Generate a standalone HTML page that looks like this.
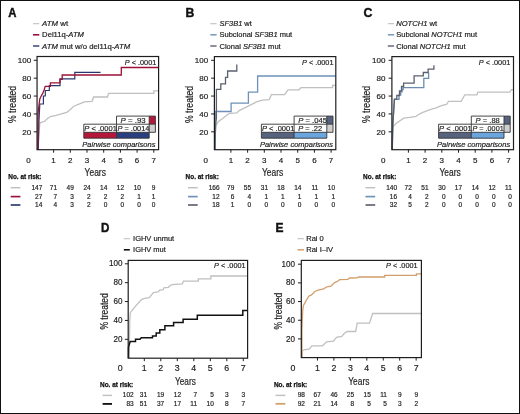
<!DOCTYPE html>
<html><head><meta charset="utf-8"><style>
html,body{margin:0;padding:0;background:#fff;}
svg{display:block;will-change:transform;}
text{font-family:"Liberation Sans", sans-serif;}
</style></head><body>
<svg width="520" height="414" viewBox="0 0 520 414" font-family='"Liberation Sans", sans-serif'>
<rect x="0" y="0" width="520" height="414" fill="#fff"/>
<text x="8.20" y="17.20" font-size="12.0" text-anchor="start" font-weight="bold" fill="#111" stroke="#111" stroke-width="0.4" textLength="8.20" lengthAdjust="spacingAndGlyphs">A</text>
<line x1="33.00" y1="23.70" x2="39.30" y2="23.70" stroke="#c0c0c0" stroke-width="1.1"/>
<text x="42.10" y="26.20" font-size="7" text-anchor="start" fill="#222" stroke="#222" stroke-width="0.18" textLength="26.00" lengthAdjust="spacingAndGlyphs"><tspan font-style="italic">ATM</tspan> wt</text>
<line x1="33.00" y1="34.80" x2="39.30" y2="34.80" stroke="#9a1238" stroke-width="1.6"/>
<text x="42.10" y="37.30" font-size="7" text-anchor="start" fill="#222" stroke="#222" stroke-width="0.18" textLength="41.90" lengthAdjust="spacingAndGlyphs">Del11q-<tspan font-style="italic">ATM</tspan></text>
<line x1="33.00" y1="46.00" x2="39.30" y2="46.00" stroke="#28386e" stroke-width="1.4"/>
<text x="42.10" y="48.50" font-size="7" text-anchor="start" fill="#222" stroke="#222" stroke-width="0.18" textLength="88.00" lengthAdjust="spacingAndGlyphs"><tspan font-style="italic">ATM</tspan> mut w/o del11q-<tspan font-style="italic">ATM</tspan></text>
<path d="M37.9,149.7 L38.8,135 L39.8,124 L40.2,122.7 L44.5,121.5 L47.5,118.5 L50.6,116.5 L56,115.4 L61.4,113.8 L66.8,112.3 L69.8,110 L73.8,106.2 L79.6,103.8 L84.4,101.8 L92.1,101.3 L93.6,97 H107.5 L108.6,93.4 H153.8 V90.8 H158.6" fill="none" stroke="#c0c0c0" stroke-width="1.3" stroke-linejoin="miter"/>
<path d="M38.3,149.7 L38.8,125 L39.8,104 H43.4 V96 H45.3 V90.5 H49.3 V85.6 H60 V78.8 H74.8 V72.3 H100.6" fill="none" stroke="#28386e" stroke-width="1.2" stroke-linejoin="miter"/>
<path d="M37.9,149.7 L38.1,112.6 L39.1,104 L39.8,99 L41.2,96 L42.7,93.4 L44.1,90 L45.2,86.3 H50.4 V82.8 H60 V79.4 H62.2 V75 H121.3 V67.5 H158.6" fill="none" stroke="#9a1238" stroke-width="1.3" stroke-linejoin="miter"/>
<rect x="37.05" y="56.50" width="121.55" height="93.20" fill="none" stroke="#1e1e1e" stroke-width="1.2"/>
<line x1="33.75" y1="60.30" x2="37.05" y2="60.30" stroke="#1e1e1e" stroke-width="1"/>
<text x="31.20" y="63.10" font-size="8" text-anchor="end" fill="#222" stroke="#222" stroke-width="0.18">100</text>
<line x1="33.75" y1="78.18" x2="37.05" y2="78.18" stroke="#1e1e1e" stroke-width="1"/>
<text x="31.20" y="80.98" font-size="8" text-anchor="end" fill="#222" stroke="#222" stroke-width="0.18">80</text>
<line x1="33.75" y1="96.06" x2="37.05" y2="96.06" stroke="#1e1e1e" stroke-width="1"/>
<text x="31.20" y="98.86" font-size="8" text-anchor="end" fill="#222" stroke="#222" stroke-width="0.18">60</text>
<line x1="33.75" y1="113.94" x2="37.05" y2="113.94" stroke="#1e1e1e" stroke-width="1"/>
<text x="31.20" y="116.74" font-size="8" text-anchor="end" fill="#222" stroke="#222" stroke-width="0.18">40</text>
<line x1="33.75" y1="131.82" x2="37.05" y2="131.82" stroke="#1e1e1e" stroke-width="1"/>
<text x="31.20" y="134.62" font-size="8" text-anchor="end" fill="#222" stroke="#222" stroke-width="0.18">20</text>
<line x1="53.60" y1="149.70" x2="53.60" y2="152.70" stroke="#1e1e1e" stroke-width="1"/>
<line x1="70.30" y1="149.70" x2="70.30" y2="152.70" stroke="#1e1e1e" stroke-width="1"/>
<line x1="87.00" y1="149.70" x2="87.00" y2="152.70" stroke="#1e1e1e" stroke-width="1"/>
<line x1="103.70" y1="149.70" x2="103.70" y2="152.70" stroke="#1e1e1e" stroke-width="1"/>
<line x1="120.40" y1="149.70" x2="120.40" y2="152.70" stroke="#1e1e1e" stroke-width="1"/>
<line x1="137.10" y1="149.70" x2="137.10" y2="152.70" stroke="#1e1e1e" stroke-width="1"/>
<line x1="153.80" y1="149.70" x2="153.80" y2="152.70" stroke="#1e1e1e" stroke-width="1"/>
<text x="28.50" y="162.90" font-size="8" text-anchor="middle" fill="#222" stroke="#222" stroke-width="0.18">0</text>
<text x="53.60" y="162.90" font-size="8" text-anchor="middle" fill="#222" stroke="#222" stroke-width="0.18">1</text>
<text x="70.30" y="162.90" font-size="8" text-anchor="middle" fill="#222" stroke="#222" stroke-width="0.18">2</text>
<text x="87.00" y="162.90" font-size="8" text-anchor="middle" fill="#222" stroke="#222" stroke-width="0.18">3</text>
<text x="103.70" y="162.90" font-size="8" text-anchor="middle" fill="#222" stroke="#222" stroke-width="0.18">4</text>
<text x="120.40" y="162.90" font-size="8" text-anchor="middle" fill="#222" stroke="#222" stroke-width="0.18">5</text>
<text x="137.10" y="162.90" font-size="8" text-anchor="middle" fill="#222" stroke="#222" stroke-width="0.18">6</text>
<text x="153.80" y="162.90" font-size="8" text-anchor="middle" fill="#222" stroke="#222" stroke-width="0.18">7</text>
<text x="84.60" y="175.70" font-size="10.6" text-anchor="start" fill="#222" stroke="#222" stroke-width="0.18" textLength="21.30" lengthAdjust="spacingAndGlyphs">Years</text>
<text transform="translate(15.50,104.50) rotate(-90)" font-size="10" text-anchor="middle" fill="#222" stroke="#222" stroke-width="0.18" textLength="37.00" lengthAdjust="spacingAndGlyphs">% treated</text>
<text x="156.30" y="64.70" font-size="7.4" text-anchor="end" fill="#222" stroke="#222" stroke-width="0.18" textLength="31.50" lengthAdjust="spacingAndGlyphs"><tspan font-style="italic">P</tspan> &lt; .0001</text>
<text x="8.30" y="179.40" font-size="6.5" text-anchor="start" font-weight="bold" fill="#111" stroke="#111" stroke-width="0.25" textLength="33.20" lengthAdjust="spacingAndGlyphs">No. at risk:</text>
<line x1="10.70" y1="187.70" x2="20.40" y2="187.70" stroke="#c0c0c0" stroke-width="1.45"/>
<text x="42.30" y="189.60" font-size="6.5" text-anchor="end" fill="#222" stroke="#222" stroke-width="0.18">147</text>
<text x="57.00" y="189.60" font-size="6.5" text-anchor="end" fill="#222" stroke="#222" stroke-width="0.18">71</text>
<text x="73.80" y="189.60" font-size="6.5" text-anchor="end" fill="#222" stroke="#222" stroke-width="0.18">49</text>
<text x="90.70" y="189.60" font-size="6.5" text-anchor="end" fill="#222" stroke="#222" stroke-width="0.18">24</text>
<text x="107.30" y="189.60" font-size="6.5" text-anchor="end" fill="#222" stroke="#222" stroke-width="0.18">14</text>
<text x="124.10" y="189.60" font-size="6.5" text-anchor="end" fill="#222" stroke="#222" stroke-width="0.18">12</text>
<text x="140.90" y="189.60" font-size="6.5" text-anchor="end" fill="#222" stroke="#222" stroke-width="0.18">10</text>
<text x="155.30" y="189.60" font-size="6.5" text-anchor="end" fill="#222" stroke="#222" stroke-width="0.18">9</text>
<line x1="10.70" y1="196.60" x2="20.40" y2="196.60" stroke="#9a1238" stroke-width="1.65"/>
<text x="42.30" y="198.50" font-size="6.5" text-anchor="end" fill="#222" stroke="#222" stroke-width="0.18">27</text>
<text x="57.00" y="198.50" font-size="6.5" text-anchor="end" fill="#222" stroke="#222" stroke-width="0.18">7</text>
<text x="73.80" y="198.50" font-size="6.5" text-anchor="end" fill="#222" stroke="#222" stroke-width="0.18">3</text>
<text x="90.70" y="198.50" font-size="6.5" text-anchor="end" fill="#222" stroke="#222" stroke-width="0.18">2</text>
<text x="107.30" y="198.50" font-size="6.5" text-anchor="end" fill="#222" stroke="#222" stroke-width="0.18">2</text>
<text x="124.10" y="198.50" font-size="6.5" text-anchor="end" fill="#222" stroke="#222" stroke-width="0.18">2</text>
<text x="140.90" y="198.50" font-size="6.5" text-anchor="end" fill="#222" stroke="#222" stroke-width="0.18">1</text>
<text x="155.30" y="198.50" font-size="6.5" text-anchor="end" fill="#222" stroke="#222" stroke-width="0.18">1</text>
<line x1="10.70" y1="205.00" x2="20.40" y2="205.00" stroke="#28386e" stroke-width="1.65"/>
<text x="42.30" y="206.90" font-size="6.5" text-anchor="end" fill="#222" stroke="#222" stroke-width="0.18">14</text>
<text x="57.00" y="206.90" font-size="6.5" text-anchor="end" fill="#222" stroke="#222" stroke-width="0.18">4</text>
<text x="73.80" y="206.90" font-size="6.5" text-anchor="end" fill="#222" stroke="#222" stroke-width="0.18">3</text>
<text x="90.70" y="206.90" font-size="6.5" text-anchor="end" fill="#222" stroke="#222" stroke-width="0.18">2</text>
<text x="107.30" y="206.90" font-size="6.5" text-anchor="end" fill="#222" stroke="#222" stroke-width="0.18">0</text>
<text x="124.10" y="206.90" font-size="6.5" text-anchor="end" fill="#222" stroke="#222" stroke-width="0.18">0</text>
<text x="140.90" y="206.90" font-size="6.5" text-anchor="end" fill="#222" stroke="#222" stroke-width="0.18">0</text>
<text x="155.30" y="206.90" font-size="6.5" text-anchor="end" fill="#222" stroke="#222" stroke-width="0.18">0</text>
<rect x="83.80" y="132.30" width="32.70" height="5.90" fill="#b5173a" stroke="none" stroke-width="1"/>
<rect x="116.50" y="132.30" width="32.70" height="5.90" fill="#2b3f80" stroke="none" stroke-width="1"/>
<rect x="149.20" y="116.10" width="6.20" height="8.10" fill="#b5173a" stroke="none" stroke-width="1"/>
<rect x="149.20" y="124.20" width="6.20" height="8.10" fill="#d0d0d0" stroke="none" stroke-width="1"/>
<path d="M116.50,116.10 H155.40 V132.30 H83.80 V124.20 H116.50 Z M116.50,124.20 H155.40 M116.50,124.20 V138.20 M149.20,116.10 V132.30 M83.80,132.30 V138.20 H149.20 V132.30" fill="none" stroke="#333" stroke-width="0.9"/>
<text x="120.60" y="122.60" font-size="7.5" text-anchor="start" fill="#222" stroke="#222" stroke-width="0.18" textLength="25.00" lengthAdjust="spacingAndGlyphs"><tspan font-style="italic">P</tspan> = .93</text>
<text x="84.30" y="130.70" font-size="7.5" text-anchor="start" fill="#222" stroke="#222" stroke-width="0.18" textLength="32.60" lengthAdjust="spacingAndGlyphs"><tspan font-style="italic">P</tspan> &lt; .0001</text>
<text x="117.50" y="130.70" font-size="7.5" text-anchor="start" fill="#222" stroke="#222" stroke-width="0.18" textLength="31.90" lengthAdjust="spacingAndGlyphs"><tspan font-style="italic">P</tspan> = .0014</text>
<text x="82.30" y="146.60" font-size="7.6" text-anchor="start" font-style="italic" fill="#222" stroke="#222" stroke-width="0.18" textLength="73.10" lengthAdjust="spacingAndGlyphs">Pairwise comparisons</text>
<text x="185.60" y="17.20" font-size="12.0" text-anchor="start" font-weight="bold" fill="#111" stroke="#111" stroke-width="0.4" textLength="8.80" lengthAdjust="spacingAndGlyphs">B</text>
<line x1="210.30" y1="23.70" x2="216.60" y2="23.70" stroke="#c0c0c0" stroke-width="1.1"/>
<text x="219.50" y="26.20" font-size="7" text-anchor="start" fill="#222" stroke="#222" stroke-width="0.18" textLength="32.30" lengthAdjust="spacingAndGlyphs"><tspan font-style="italic">SF3B1</tspan> wt</text>
<line x1="210.30" y1="34.80" x2="216.60" y2="34.80" stroke="#6d91b8" stroke-width="1.4"/>
<text x="219.50" y="37.30" font-size="7" text-anchor="start" fill="#222" stroke="#222" stroke-width="0.18" textLength="72.70" lengthAdjust="spacingAndGlyphs">Subclonal <tspan font-style="italic">SF3B1</tspan> mut</text>
<line x1="210.30" y1="46.00" x2="216.60" y2="46.00" stroke="#5b606f" stroke-width="1.4"/>
<text x="219.50" y="48.50" font-size="7" text-anchor="start" fill="#222" stroke="#222" stroke-width="0.18" textLength="61.20" lengthAdjust="spacingAndGlyphs">Clonal <tspan font-style="italic">SF3B1</tspan> mut</text>
<path d="M215.0,149.7 L215.4,132 L215.9,125.6 L218.4,121.4 L222.7,118.5 L228.6,113.8 L230,113.4 L236.9,112.9 L239.2,110.6 L243.8,108.3 L249.6,105.4 L256.5,101.9 L262.3,100.2 L269.2,99.6 L271.5,94.6 H284.6 L288,89.8 H298.9 L301,87.6 H332.6 V85.3 H335.8" fill="none" stroke="#c0c0c0" stroke-width="1.3" stroke-linejoin="miter"/>
<path d="M215.3,149.7 V111.5 H231.1 V103.1 H248.4 V92.2 H257.6 V76 H335.8" fill="none" stroke="#6d91b8" stroke-width="1.3" stroke-linejoin="miter"/>
<path d="M214.9,149.7 L215.6,125 L216.4,118 V89.4 H220.8 V83.8 H225.5 V77.3 H227.6 V71 H236.8 V64.4" fill="none" stroke="#5b606f" stroke-width="1.3" stroke-linejoin="miter"/>
<rect x="214.40" y="56.60" width="121.40" height="93.10" fill="none" stroke="#1e1e1e" stroke-width="1.2"/>
<line x1="211.10" y1="60.30" x2="214.40" y2="60.30" stroke="#1e1e1e" stroke-width="1"/>
<text x="208.20" y="63.10" font-size="8" text-anchor="end" fill="#222" stroke="#222" stroke-width="0.18">100</text>
<line x1="211.10" y1="78.18" x2="214.40" y2="78.18" stroke="#1e1e1e" stroke-width="1"/>
<text x="208.20" y="80.98" font-size="8" text-anchor="end" fill="#222" stroke="#222" stroke-width="0.18">80</text>
<line x1="211.10" y1="96.06" x2="214.40" y2="96.06" stroke="#1e1e1e" stroke-width="1"/>
<text x="208.20" y="98.86" font-size="8" text-anchor="end" fill="#222" stroke="#222" stroke-width="0.18">60</text>
<line x1="211.10" y1="113.94" x2="214.40" y2="113.94" stroke="#1e1e1e" stroke-width="1"/>
<text x="208.20" y="116.74" font-size="8" text-anchor="end" fill="#222" stroke="#222" stroke-width="0.18">40</text>
<line x1="211.10" y1="131.82" x2="214.40" y2="131.82" stroke="#1e1e1e" stroke-width="1"/>
<text x="208.20" y="134.62" font-size="8" text-anchor="end" fill="#222" stroke="#222" stroke-width="0.18">20</text>
<line x1="230.90" y1="149.70" x2="230.90" y2="152.70" stroke="#1e1e1e" stroke-width="1"/>
<line x1="247.60" y1="149.70" x2="247.60" y2="152.70" stroke="#1e1e1e" stroke-width="1"/>
<line x1="264.30" y1="149.70" x2="264.30" y2="152.70" stroke="#1e1e1e" stroke-width="1"/>
<line x1="281.00" y1="149.70" x2="281.00" y2="152.70" stroke="#1e1e1e" stroke-width="1"/>
<line x1="297.70" y1="149.70" x2="297.70" y2="152.70" stroke="#1e1e1e" stroke-width="1"/>
<line x1="314.40" y1="149.70" x2="314.40" y2="152.70" stroke="#1e1e1e" stroke-width="1"/>
<line x1="331.10" y1="149.70" x2="331.10" y2="152.70" stroke="#1e1e1e" stroke-width="1"/>
<text x="205.80" y="162.90" font-size="8" text-anchor="middle" fill="#222" stroke="#222" stroke-width="0.18">0</text>
<text x="230.90" y="162.90" font-size="8" text-anchor="middle" fill="#222" stroke="#222" stroke-width="0.18">1</text>
<text x="247.60" y="162.90" font-size="8" text-anchor="middle" fill="#222" stroke="#222" stroke-width="0.18">2</text>
<text x="264.30" y="162.90" font-size="8" text-anchor="middle" fill="#222" stroke="#222" stroke-width="0.18">3</text>
<text x="281.00" y="162.90" font-size="8" text-anchor="middle" fill="#222" stroke="#222" stroke-width="0.18">4</text>
<text x="297.70" y="162.90" font-size="8" text-anchor="middle" fill="#222" stroke="#222" stroke-width="0.18">5</text>
<text x="314.40" y="162.90" font-size="8" text-anchor="middle" fill="#222" stroke="#222" stroke-width="0.18">6</text>
<text x="331.10" y="162.90" font-size="8" text-anchor="middle" fill="#222" stroke="#222" stroke-width="0.18">7</text>
<text x="261.90" y="175.70" font-size="10.6" text-anchor="start" fill="#222" stroke="#222" stroke-width="0.18" textLength="21.30" lengthAdjust="spacingAndGlyphs">Years</text>
<text transform="translate(192.80,104.50) rotate(-90)" font-size="10" text-anchor="middle" fill="#222" stroke="#222" stroke-width="0.18" textLength="37.00" lengthAdjust="spacingAndGlyphs">% treated</text>
<text x="333.50" y="64.50" font-size="7.4" text-anchor="end" fill="#222" stroke="#222" stroke-width="0.18" textLength="31.50" lengthAdjust="spacingAndGlyphs"><tspan font-style="italic">P</tspan> &lt; .0001</text>
<text x="185.60" y="179.40" font-size="6.5" text-anchor="start" font-weight="bold" fill="#111" stroke="#111" stroke-width="0.25" textLength="33.20" lengthAdjust="spacingAndGlyphs">No. at risk:</text>
<line x1="188.00" y1="187.70" x2="197.70" y2="187.70" stroke="#c0c0c0" stroke-width="1.45"/>
<text x="219.60" y="189.60" font-size="6.5" text-anchor="end" fill="#222" stroke="#222" stroke-width="0.18">166</text>
<text x="234.30" y="189.60" font-size="6.5" text-anchor="end" fill="#222" stroke="#222" stroke-width="0.18">79</text>
<text x="251.10" y="189.60" font-size="6.5" text-anchor="end" fill="#222" stroke="#222" stroke-width="0.18">55</text>
<text x="268.00" y="189.60" font-size="6.5" text-anchor="end" fill="#222" stroke="#222" stroke-width="0.18">31</text>
<text x="284.60" y="189.60" font-size="6.5" text-anchor="end" fill="#222" stroke="#222" stroke-width="0.18">18</text>
<text x="301.40" y="189.60" font-size="6.5" text-anchor="end" fill="#222" stroke="#222" stroke-width="0.18">14</text>
<text x="318.20" y="189.60" font-size="6.5" text-anchor="end" fill="#222" stroke="#222" stroke-width="0.18">11</text>
<text x="335.00" y="189.60" font-size="6.5" text-anchor="end" fill="#222" stroke="#222" stroke-width="0.18">10</text>
<line x1="188.00" y1="196.60" x2="197.70" y2="196.60" stroke="#6d91b8" stroke-width="1.65"/>
<text x="219.60" y="198.50" font-size="6.5" text-anchor="end" fill="#222" stroke="#222" stroke-width="0.18">12</text>
<text x="234.30" y="198.50" font-size="6.5" text-anchor="end" fill="#222" stroke="#222" stroke-width="0.18">6</text>
<text x="251.10" y="198.50" font-size="6.5" text-anchor="end" fill="#222" stroke="#222" stroke-width="0.18">4</text>
<text x="268.00" y="198.50" font-size="6.5" text-anchor="end" fill="#222" stroke="#222" stroke-width="0.18">1</text>
<text x="284.60" y="198.50" font-size="6.5" text-anchor="end" fill="#222" stroke="#222" stroke-width="0.18">1</text>
<text x="301.40" y="198.50" font-size="6.5" text-anchor="end" fill="#222" stroke="#222" stroke-width="0.18">1</text>
<text x="318.20" y="198.50" font-size="6.5" text-anchor="end" fill="#222" stroke="#222" stroke-width="0.18">1</text>
<text x="335.00" y="198.50" font-size="6.5" text-anchor="end" fill="#222" stroke="#222" stroke-width="0.18">1</text>
<line x1="188.00" y1="205.00" x2="197.70" y2="205.00" stroke="#5b606f" stroke-width="1.65"/>
<text x="219.60" y="206.90" font-size="6.5" text-anchor="end" fill="#222" stroke="#222" stroke-width="0.18">18</text>
<text x="234.30" y="206.90" font-size="6.5" text-anchor="end" fill="#222" stroke="#222" stroke-width="0.18">1</text>
<text x="251.10" y="206.90" font-size="6.5" text-anchor="end" fill="#222" stroke="#222" stroke-width="0.18">0</text>
<text x="268.00" y="206.90" font-size="6.5" text-anchor="end" fill="#222" stroke="#222" stroke-width="0.18">0</text>
<text x="284.60" y="206.90" font-size="6.5" text-anchor="end" fill="#222" stroke="#222" stroke-width="0.18">0</text>
<text x="301.40" y="206.90" font-size="6.5" text-anchor="end" fill="#222" stroke="#222" stroke-width="0.18">0</text>
<text x="318.20" y="206.90" font-size="6.5" text-anchor="end" fill="#222" stroke="#222" stroke-width="0.18">0</text>
<text x="335.00" y="206.90" font-size="6.5" text-anchor="end" fill="#222" stroke="#222" stroke-width="0.18">0</text>
<rect x="261.40" y="132.30" width="32.70" height="5.90" fill="#57627e" stroke="none" stroke-width="1"/>
<rect x="294.10" y="132.30" width="32.70" height="5.90" fill="#6aa5de" stroke="none" stroke-width="1"/>
<rect x="326.80" y="116.10" width="6.20" height="8.10" fill="#57627e" stroke="none" stroke-width="1"/>
<rect x="326.80" y="124.20" width="6.20" height="8.10" fill="#d0d0d0" stroke="none" stroke-width="1"/>
<path d="M294.10,116.10 H333.00 V132.30 H261.40 V124.20 H294.10 Z M294.10,124.20 H333.00 M294.10,124.20 V138.20 M326.80,116.10 V132.30 M261.40,132.30 V138.20 H326.80 V132.30" fill="none" stroke="#333" stroke-width="0.9"/>
<text x="298.30" y="122.60" font-size="7.5" text-anchor="start" fill="#222" stroke="#222" stroke-width="0.18" textLength="28.70" lengthAdjust="spacingAndGlyphs"><tspan font-style="italic">P</tspan> = .045</text>
<text x="261.90" y="130.70" font-size="7.5" text-anchor="start" fill="#222" stroke="#222" stroke-width="0.18" textLength="32.60" lengthAdjust="spacingAndGlyphs"><tspan font-style="italic">P</tspan> &lt; .0001</text>
<text x="298.30" y="130.70" font-size="7.5" text-anchor="start" fill="#222" stroke="#222" stroke-width="0.18" textLength="23.90" lengthAdjust="spacingAndGlyphs"><tspan font-style="italic">P</tspan> = .22</text>
<text x="259.90" y="146.60" font-size="7.6" text-anchor="start" font-style="italic" fill="#222" stroke="#222" stroke-width="0.18" textLength="73.10" lengthAdjust="spacingAndGlyphs">Pairwise comparisons</text>
<text x="363.40" y="17.20" font-size="12.0" text-anchor="start" font-weight="bold" fill="#111" stroke="#111" stroke-width="0.4" textLength="8.90" lengthAdjust="spacingAndGlyphs">C</text>
<line x1="387.80" y1="23.70" x2="394.10" y2="23.70" stroke="#c0c0c0" stroke-width="1.1"/>
<text x="396.20" y="26.20" font-size="7" text-anchor="start" fill="#222" stroke="#222" stroke-width="0.18" textLength="41.00" lengthAdjust="spacingAndGlyphs"><tspan font-style="italic">NOTCH1</tspan> wt</text>
<line x1="387.80" y1="34.80" x2="394.10" y2="34.80" stroke="#6d91b8" stroke-width="1.4"/>
<text x="396.20" y="37.30" font-size="7" text-anchor="start" fill="#222" stroke="#222" stroke-width="0.18" textLength="80.80" lengthAdjust="spacingAndGlyphs">Subclonal <tspan font-style="italic">NOTCH1</tspan> mut</text>
<line x1="387.80" y1="46.00" x2="394.10" y2="46.00" stroke="#5b606f" stroke-width="1.4"/>
<text x="396.20" y="48.50" font-size="7" text-anchor="start" fill="#222" stroke="#222" stroke-width="0.18" textLength="69.30" lengthAdjust="spacingAndGlyphs">Clonal <tspan font-style="italic">NOTCH1</tspan> mut</text>
<path d="M392.3,149.7 L392.6,132 L393.1,126.5 L396,123.5 L399.2,121.2 L403.8,118.1 L410,117.3 L416,116.5 L417.7,115 L422.3,112.7 L430,109.6 L436.2,107.8 L440.8,105.8 L446.9,104.2 L448.4,101.3 H461.3 L464.8,94.8 H476.9 L477.8,92.2 H509.8 L511.5,89.6 H513.5" fill="none" stroke="#c0c0c0" stroke-width="1.3" stroke-linejoin="miter"/>
<path d="M392.2,149.7 L392.6,128 L394.3,99.4 H399 V95.2 H400.7 V91.8 H402 V89.5 H403.2 V87.7 H423.8 V78.3 H428.6 V72.5" fill="none" stroke="#6a8cb0" stroke-width="1.3" stroke-linejoin="miter"/>
<path d="M392.3,149.7 L392.8,125 L394.5,99.2 H396.8 V95.5 H399.5 V91 H401.5 V86.5 H403.6 V83.2 H414.1 V75.9 H423.3 V72.5 H428.1 V69.2 H433.9 V65.3" fill="none" stroke="#5b606f" stroke-width="1.3" stroke-linejoin="miter"/>
<rect x="391.90" y="56.60" width="121.60" height="93.10" fill="none" stroke="#1e1e1e" stroke-width="1.2"/>
<line x1="388.60" y1="60.30" x2="391.90" y2="60.30" stroke="#1e1e1e" stroke-width="1"/>
<text x="385.40" y="63.10" font-size="8" text-anchor="end" fill="#222" stroke="#222" stroke-width="0.18">100</text>
<line x1="388.60" y1="78.18" x2="391.90" y2="78.18" stroke="#1e1e1e" stroke-width="1"/>
<text x="385.40" y="80.98" font-size="8" text-anchor="end" fill="#222" stroke="#222" stroke-width="0.18">80</text>
<line x1="388.60" y1="96.06" x2="391.90" y2="96.06" stroke="#1e1e1e" stroke-width="1"/>
<text x="385.40" y="98.86" font-size="8" text-anchor="end" fill="#222" stroke="#222" stroke-width="0.18">60</text>
<line x1="388.60" y1="113.94" x2="391.90" y2="113.94" stroke="#1e1e1e" stroke-width="1"/>
<text x="385.40" y="116.74" font-size="8" text-anchor="end" fill="#222" stroke="#222" stroke-width="0.18">40</text>
<line x1="388.60" y1="131.82" x2="391.90" y2="131.82" stroke="#1e1e1e" stroke-width="1"/>
<text x="385.40" y="134.62" font-size="8" text-anchor="end" fill="#222" stroke="#222" stroke-width="0.18">20</text>
<line x1="408.40" y1="149.70" x2="408.40" y2="152.70" stroke="#1e1e1e" stroke-width="1"/>
<line x1="425.10" y1="149.70" x2="425.10" y2="152.70" stroke="#1e1e1e" stroke-width="1"/>
<line x1="441.80" y1="149.70" x2="441.80" y2="152.70" stroke="#1e1e1e" stroke-width="1"/>
<line x1="458.50" y1="149.70" x2="458.50" y2="152.70" stroke="#1e1e1e" stroke-width="1"/>
<line x1="475.20" y1="149.70" x2="475.20" y2="152.70" stroke="#1e1e1e" stroke-width="1"/>
<line x1="491.90" y1="149.70" x2="491.90" y2="152.70" stroke="#1e1e1e" stroke-width="1"/>
<line x1="508.60" y1="149.70" x2="508.60" y2="152.70" stroke="#1e1e1e" stroke-width="1"/>
<text x="383.30" y="162.90" font-size="8" text-anchor="middle" fill="#222" stroke="#222" stroke-width="0.18">0</text>
<text x="408.40" y="162.90" font-size="8" text-anchor="middle" fill="#222" stroke="#222" stroke-width="0.18">1</text>
<text x="425.10" y="162.90" font-size="8" text-anchor="middle" fill="#222" stroke="#222" stroke-width="0.18">2</text>
<text x="441.80" y="162.90" font-size="8" text-anchor="middle" fill="#222" stroke="#222" stroke-width="0.18">3</text>
<text x="458.50" y="162.90" font-size="8" text-anchor="middle" fill="#222" stroke="#222" stroke-width="0.18">4</text>
<text x="475.20" y="162.90" font-size="8" text-anchor="middle" fill="#222" stroke="#222" stroke-width="0.18">5</text>
<text x="491.90" y="162.90" font-size="8" text-anchor="middle" fill="#222" stroke="#222" stroke-width="0.18">6</text>
<text x="508.60" y="162.90" font-size="8" text-anchor="middle" fill="#222" stroke="#222" stroke-width="0.18">7</text>
<text x="439.40" y="175.70" font-size="10.6" text-anchor="start" fill="#222" stroke="#222" stroke-width="0.18" textLength="21.30" lengthAdjust="spacingAndGlyphs">Years</text>
<text transform="translate(370.30,104.50) rotate(-90)" font-size="10" text-anchor="middle" fill="#222" stroke="#222" stroke-width="0.18" textLength="37.00" lengthAdjust="spacingAndGlyphs">% treated</text>
<text x="510.30" y="64.50" font-size="7.4" text-anchor="end" fill="#222" stroke="#222" stroke-width="0.18" textLength="31.50" lengthAdjust="spacingAndGlyphs"><tspan font-style="italic">P</tspan> &lt; .0001</text>
<text x="363.10" y="179.40" font-size="6.5" text-anchor="start" font-weight="bold" fill="#111" stroke="#111" stroke-width="0.25" textLength="33.20" lengthAdjust="spacingAndGlyphs">No. at risk:</text>
<line x1="365.50" y1="187.70" x2="375.20" y2="187.70" stroke="#c0c0c0" stroke-width="1.45"/>
<text x="397.10" y="189.60" font-size="6.5" text-anchor="end" fill="#222" stroke="#222" stroke-width="0.18">140</text>
<text x="411.80" y="189.60" font-size="6.5" text-anchor="end" fill="#222" stroke="#222" stroke-width="0.18">72</text>
<text x="428.60" y="189.60" font-size="6.5" text-anchor="end" fill="#222" stroke="#222" stroke-width="0.18">51</text>
<text x="445.50" y="189.60" font-size="6.5" text-anchor="end" fill="#222" stroke="#222" stroke-width="0.18">30</text>
<text x="462.10" y="189.60" font-size="6.5" text-anchor="end" fill="#222" stroke="#222" stroke-width="0.18">17</text>
<text x="478.90" y="189.60" font-size="6.5" text-anchor="end" fill="#222" stroke="#222" stroke-width="0.18">14</text>
<text x="495.70" y="189.60" font-size="6.5" text-anchor="end" fill="#222" stroke="#222" stroke-width="0.18">12</text>
<text x="511.80" y="189.60" font-size="6.5" text-anchor="end" fill="#222" stroke="#222" stroke-width="0.18">11</text>
<line x1="365.50" y1="196.60" x2="375.20" y2="196.60" stroke="#6d91b8" stroke-width="1.65"/>
<text x="397.10" y="198.50" font-size="6.5" text-anchor="end" fill="#222" stroke="#222" stroke-width="0.18">16</text>
<text x="411.80" y="198.50" font-size="6.5" text-anchor="end" fill="#222" stroke="#222" stroke-width="0.18">4</text>
<text x="428.60" y="198.50" font-size="6.5" text-anchor="end" fill="#222" stroke="#222" stroke-width="0.18">2</text>
<text x="445.50" y="198.50" font-size="6.5" text-anchor="end" fill="#222" stroke="#222" stroke-width="0.18">0</text>
<text x="462.10" y="198.50" font-size="6.5" text-anchor="end" fill="#222" stroke="#222" stroke-width="0.18">0</text>
<text x="478.90" y="198.50" font-size="6.5" text-anchor="end" fill="#222" stroke="#222" stroke-width="0.18">0</text>
<text x="495.70" y="198.50" font-size="6.5" text-anchor="end" fill="#222" stroke="#222" stroke-width="0.18">0</text>
<text x="511.80" y="198.50" font-size="6.5" text-anchor="end" fill="#222" stroke="#222" stroke-width="0.18">0</text>
<line x1="365.50" y1="205.00" x2="375.20" y2="205.00" stroke="#5b606f" stroke-width="1.65"/>
<text x="397.10" y="206.90" font-size="6.5" text-anchor="end" fill="#222" stroke="#222" stroke-width="0.18">32</text>
<text x="411.80" y="206.90" font-size="6.5" text-anchor="end" fill="#222" stroke="#222" stroke-width="0.18">5</text>
<text x="428.60" y="206.90" font-size="6.5" text-anchor="end" fill="#222" stroke="#222" stroke-width="0.18">2</text>
<text x="445.50" y="206.90" font-size="6.5" text-anchor="end" fill="#222" stroke="#222" stroke-width="0.18">0</text>
<text x="462.10" y="206.90" font-size="6.5" text-anchor="end" fill="#222" stroke="#222" stroke-width="0.18">0</text>
<text x="478.90" y="206.90" font-size="6.5" text-anchor="end" fill="#222" stroke="#222" stroke-width="0.18">0</text>
<text x="495.70" y="206.90" font-size="6.5" text-anchor="end" fill="#222" stroke="#222" stroke-width="0.18">0</text>
<text x="511.80" y="206.90" font-size="6.5" text-anchor="end" fill="#222" stroke="#222" stroke-width="0.18">0</text>
<rect x="438.60" y="132.30" width="32.70" height="5.90" fill="#57627e" stroke="none" stroke-width="1"/>
<rect x="471.30" y="132.30" width="32.70" height="5.90" fill="#6aa5de" stroke="none" stroke-width="1"/>
<rect x="504.00" y="116.10" width="6.20" height="8.10" fill="#57627e" stroke="none" stroke-width="1"/>
<rect x="504.00" y="124.20" width="6.20" height="8.10" fill="#d0d0d0" stroke="none" stroke-width="1"/>
<path d="M471.30,116.10 H510.20 V132.30 H438.60 V124.20 H471.30 Z M471.30,124.20 H510.20 M471.30,124.20 V138.20 M504.00,116.10 V132.30 M438.60,132.30 V138.20 H504.00 V132.30" fill="none" stroke="#333" stroke-width="0.9"/>
<text x="475.60" y="122.60" font-size="7.5" text-anchor="start" fill="#222" stroke="#222" stroke-width="0.18" textLength="24.20" lengthAdjust="spacingAndGlyphs"><tspan font-style="italic">P</tspan> = .88</text>
<text x="439.10" y="130.70" font-size="7.5" text-anchor="start" fill="#222" stroke="#222" stroke-width="0.18" textLength="32.60" lengthAdjust="spacingAndGlyphs"><tspan font-style="italic">P</tspan> &lt; .0001</text>
<text x="472.50" y="130.70" font-size="7.5" text-anchor="start" fill="#222" stroke="#222" stroke-width="0.18" textLength="31.20" lengthAdjust="spacingAndGlyphs"><tspan font-style="italic">P</tspan> = .0001</text>
<text x="437.10" y="146.60" font-size="7.6" text-anchor="start" font-style="italic" fill="#222" stroke="#222" stroke-width="0.18" textLength="73.10" lengthAdjust="spacingAndGlyphs">Pairwise comparisons</text>
<text x="100.90" y="232.00" font-size="12.0" text-anchor="start" font-weight="bold" fill="#111" stroke="#111" stroke-width="0.4" textLength="8.40" lengthAdjust="spacingAndGlyphs">D</text>
<line x1="123.80" y1="238.70" x2="129.80" y2="238.70" stroke="#c0c0c0" stroke-width="1.1"/>
<text x="133.10" y="241.20" font-size="7" text-anchor="start" fill="#222" stroke="#222" stroke-width="0.18" textLength="41.10" lengthAdjust="spacingAndGlyphs">IGHV unmut</text>
<line x1="123.80" y1="249.80" x2="129.80" y2="249.80" stroke="#111" stroke-width="1.6"/>
<text x="133.10" y="252.30" font-size="7" text-anchor="start" fill="#222" stroke="#222" stroke-width="0.18" textLength="32.70" lengthAdjust="spacingAndGlyphs">IGHV mut</text>
<path d="M128.6,358 L129.3,345 L129.8,320 L130.3,312.7 L134.9,306.9 L139.5,301.7 L141.8,299.4 L144.7,298.3 L149.3,297.7 L153.4,292.5 L158,291.9 L159.7,290.2 L163.2,289.6 L163.8,287.9 L168.4,287.3 L170.7,285 L174.1,284.4 L182.2,283.8 L183.6,281.1 H198.3 V278.8 H210.9 V276 H247.6" fill="none" stroke="#c0c0c0" stroke-width="1.3" stroke-linejoin="miter"/>
<path d="M128.5,358 V347 L129.2,344.8 L130.2,341.6 H135.5 V339.3 H140 L141.3,337.7 H152.5 V336 H156.2 V333 H159.8 V329.7 H164.9 V325.8 H173.6 V322.6 H183.1 V319.3 H197.3 V315.3 H242.8 V310.5 H247.5" fill="none" stroke="#111" stroke-width="1.5" stroke-linejoin="miter"/>
<rect x="128.20" y="260.40" width="119.40" height="97.80" fill="none" stroke="#1e1e1e" stroke-width="1.2"/>
<line x1="124.90" y1="263.80" x2="128.20" y2="263.80" stroke="#1e1e1e" stroke-width="1"/>
<text x="122.60" y="266.40" font-size="8.8" text-anchor="end" fill="#222" stroke="#222" stroke-width="0.18" textLength="13.50" lengthAdjust="spacingAndGlyphs">100</text>
<line x1="124.90" y1="282.68" x2="128.20" y2="282.68" stroke="#1e1e1e" stroke-width="1"/>
<text x="122.60" y="285.28" font-size="8.8" text-anchor="end" fill="#222" stroke="#222" stroke-width="0.18" textLength="9.00" lengthAdjust="spacingAndGlyphs">80</text>
<line x1="124.90" y1="301.56" x2="128.20" y2="301.56" stroke="#1e1e1e" stroke-width="1"/>
<text x="122.60" y="304.16" font-size="8.8" text-anchor="end" fill="#222" stroke="#222" stroke-width="0.18" textLength="9.00" lengthAdjust="spacingAndGlyphs">60</text>
<line x1="124.90" y1="320.44" x2="128.20" y2="320.44" stroke="#1e1e1e" stroke-width="1"/>
<text x="122.60" y="323.04" font-size="8.8" text-anchor="end" fill="#222" stroke="#222" stroke-width="0.18" textLength="9.00" lengthAdjust="spacingAndGlyphs">40</text>
<line x1="124.90" y1="339.32" x2="128.20" y2="339.32" stroke="#1e1e1e" stroke-width="1"/>
<text x="122.60" y="341.92" font-size="8.8" text-anchor="end" fill="#222" stroke="#222" stroke-width="0.18" textLength="9.00" lengthAdjust="spacingAndGlyphs">20</text>
<line x1="144.30" y1="358.20" x2="144.30" y2="361.20" stroke="#1e1e1e" stroke-width="1"/>
<line x1="160.80" y1="358.20" x2="160.80" y2="361.20" stroke="#1e1e1e" stroke-width="1"/>
<line x1="177.30" y1="358.20" x2="177.30" y2="361.20" stroke="#1e1e1e" stroke-width="1"/>
<line x1="193.80" y1="358.20" x2="193.80" y2="361.20" stroke="#1e1e1e" stroke-width="1"/>
<line x1="210.30" y1="358.20" x2="210.30" y2="361.20" stroke="#1e1e1e" stroke-width="1"/>
<line x1="226.80" y1="358.20" x2="226.80" y2="361.20" stroke="#1e1e1e" stroke-width="1"/>
<line x1="243.30" y1="358.20" x2="243.30" y2="361.20" stroke="#1e1e1e" stroke-width="1"/>
<text x="120.20" y="371.30" font-size="8.8" text-anchor="middle" fill="#222" stroke="#222" stroke-width="0.18">0</text>
<text x="144.30" y="371.30" font-size="8.8" text-anchor="middle" fill="#222" stroke="#222" stroke-width="0.18">1</text>
<text x="160.80" y="371.30" font-size="8.8" text-anchor="middle" fill="#222" stroke="#222" stroke-width="0.18">2</text>
<text x="177.30" y="371.30" font-size="8.8" text-anchor="middle" fill="#222" stroke="#222" stroke-width="0.18">3</text>
<text x="193.80" y="371.30" font-size="8.8" text-anchor="middle" fill="#222" stroke="#222" stroke-width="0.18">4</text>
<text x="210.30" y="371.30" font-size="8.8" text-anchor="middle" fill="#222" stroke="#222" stroke-width="0.18">5</text>
<text x="226.80" y="371.30" font-size="8.8" text-anchor="middle" fill="#222" stroke="#222" stroke-width="0.18">6</text>
<text x="243.30" y="371.30" font-size="8.8" text-anchor="middle" fill="#222" stroke="#222" stroke-width="0.18">7</text>
<text x="175.00" y="385.10" font-size="10.6" text-anchor="start" fill="#222" stroke="#222" stroke-width="0.18" textLength="20.80" lengthAdjust="spacingAndGlyphs">Years</text>
<text transform="translate(107.90,311.40) rotate(-90)" font-size="10" text-anchor="middle" fill="#222" stroke="#222" stroke-width="0.18" textLength="36.40" lengthAdjust="spacingAndGlyphs">% treated</text>
<text x="245.60" y="268.00" font-size="7.4" text-anchor="end" fill="#222" stroke="#222" stroke-width="0.18" textLength="31.50" lengthAdjust="spacingAndGlyphs"><tspan font-style="italic">P</tspan> &lt; .0001</text>
<text x="100.00" y="387.30" font-size="6.5" text-anchor="start" font-weight="bold" fill="#111" stroke="#111" stroke-width="0.25" textLength="33.20" lengthAdjust="spacingAndGlyphs">No. at risk:</text>
<line x1="102.60" y1="395.40" x2="112.00" y2="395.40" stroke="#c0c0c0" stroke-width="1.45"/>
<text x="133.70" y="397.30" font-size="6.5" text-anchor="end" fill="#222" stroke="#222" stroke-width="0.18">102</text>
<text x="147.10" y="397.30" font-size="6.5" text-anchor="end" fill="#222" stroke="#222" stroke-width="0.18">31</text>
<text x="164.20" y="397.30" font-size="6.5" text-anchor="end" fill="#222" stroke="#222" stroke-width="0.18">19</text>
<text x="181.00" y="397.30" font-size="6.5" text-anchor="end" fill="#222" stroke="#222" stroke-width="0.18">12</text>
<text x="197.10" y="397.30" font-size="6.5" text-anchor="end" fill="#222" stroke="#222" stroke-width="0.18">7</text>
<text x="213.80" y="397.30" font-size="6.5" text-anchor="end" fill="#222" stroke="#222" stroke-width="0.18">5</text>
<text x="228.60" y="397.30" font-size="6.5" text-anchor="end" fill="#222" stroke="#222" stroke-width="0.18">3</text>
<text x="245.00" y="397.30" font-size="6.5" text-anchor="end" fill="#222" stroke="#222" stroke-width="0.18">3</text>
<line x1="102.60" y1="403.90" x2="112.00" y2="403.90" stroke="#111" stroke-width="1.85"/>
<text x="133.70" y="405.80" font-size="6.5" text-anchor="end" fill="#222" stroke="#222" stroke-width="0.18">83</text>
<text x="147.10" y="405.80" font-size="6.5" text-anchor="end" fill="#222" stroke="#222" stroke-width="0.18">51</text>
<text x="164.20" y="405.80" font-size="6.5" text-anchor="end" fill="#222" stroke="#222" stroke-width="0.18">37</text>
<text x="181.00" y="405.80" font-size="6.5" text-anchor="end" fill="#222" stroke="#222" stroke-width="0.18">17</text>
<text x="197.10" y="405.80" font-size="6.5" text-anchor="end" fill="#222" stroke="#222" stroke-width="0.18">11</text>
<text x="213.80" y="405.80" font-size="6.5" text-anchor="end" fill="#222" stroke="#222" stroke-width="0.18">10</text>
<text x="228.60" y="405.80" font-size="6.5" text-anchor="end" fill="#222" stroke="#222" stroke-width="0.18">8</text>
<text x="245.00" y="405.80" font-size="6.5" text-anchor="end" fill="#222" stroke="#222" stroke-width="0.18">7</text>
<text x="275.50" y="232.00" font-size="12.0" text-anchor="start" font-weight="bold" fill="#111" stroke="#111" stroke-width="0.4" textLength="8.00" lengthAdjust="spacingAndGlyphs">E</text>
<line x1="297.50" y1="238.70" x2="303.90" y2="238.70" stroke="#c0c0c0" stroke-width="1.1"/>
<text x="306.20" y="241.20" font-size="7" text-anchor="start" fill="#222" stroke="#222" stroke-width="0.18" textLength="17.60" lengthAdjust="spacingAndGlyphs">Rai 0</text>
<line x1="297.50" y1="249.80" x2="303.90" y2="249.80" stroke="#d29f6c" stroke-width="1.5"/>
<text x="306.20" y="252.30" font-size="7" text-anchor="start" fill="#222" stroke="#222" stroke-width="0.18" textLength="26.90" lengthAdjust="spacingAndGlyphs">Rai I–IV</text>
<path d="M302.2,357.4 L302.4,350.8 L304.2,349.8 L309.5,348.8 L311.8,345.8 H322.6 L326.5,341.9 L333.4,341.1 L336.5,337.3 L341.8,336.5 L344.2,333.5 L347.2,331.5 H355.7 L357.2,323.2 H369.5 L372.6,313.5 H421.4" fill="none" stroke="#c0c0c0" stroke-width="1.3" stroke-linejoin="miter"/>
<path d="M301.9,357.4 L301.9,330 L302.7,310.7 L303.5,305 L304.1,304.3 L306.5,300 L308.8,296.2 L311.5,294.9 L314.8,291.5 L318.2,290.2 L323.6,288.8 L326.9,286.8 L331,286.2 L334.3,282.8 L338.4,280.8 L339.7,279.6 L347.8,279.3 L349.8,278 L357.2,277.8 L358.6,277 H384.7 V275.3 H416.4 V273.8 H421.4" fill="none" stroke="#d29f6c" stroke-width="1.3" stroke-linejoin="miter"/>
<rect x="301.30" y="260.40" width="120.10" height="97.20" fill="none" stroke="#1e1e1e" stroke-width="1.2"/>
<line x1="298.00" y1="264.20" x2="301.30" y2="264.20" stroke="#1e1e1e" stroke-width="1"/>
<text x="295.00" y="266.80" font-size="8.8" text-anchor="end" fill="#222" stroke="#222" stroke-width="0.18" textLength="13.50" lengthAdjust="spacingAndGlyphs">100</text>
<line x1="298.00" y1="282.88" x2="301.30" y2="282.88" stroke="#1e1e1e" stroke-width="1"/>
<text x="295.00" y="285.48" font-size="8.8" text-anchor="end" fill="#222" stroke="#222" stroke-width="0.18" textLength="9.00" lengthAdjust="spacingAndGlyphs">80</text>
<line x1="298.00" y1="301.56" x2="301.30" y2="301.56" stroke="#1e1e1e" stroke-width="1"/>
<text x="295.00" y="304.16" font-size="8.8" text-anchor="end" fill="#222" stroke="#222" stroke-width="0.18" textLength="9.00" lengthAdjust="spacingAndGlyphs">60</text>
<line x1="298.00" y1="320.24" x2="301.30" y2="320.24" stroke="#1e1e1e" stroke-width="1"/>
<text x="295.00" y="322.84" font-size="8.8" text-anchor="end" fill="#222" stroke="#222" stroke-width="0.18" textLength="9.00" lengthAdjust="spacingAndGlyphs">40</text>
<line x1="298.00" y1="338.92" x2="301.30" y2="338.92" stroke="#1e1e1e" stroke-width="1"/>
<text x="295.00" y="341.52" font-size="8.8" text-anchor="end" fill="#222" stroke="#222" stroke-width="0.18" textLength="9.00" lengthAdjust="spacingAndGlyphs">20</text>
<line x1="317.45" y1="357.60" x2="317.45" y2="360.60" stroke="#1e1e1e" stroke-width="1"/>
<line x1="333.90" y1="357.60" x2="333.90" y2="360.60" stroke="#1e1e1e" stroke-width="1"/>
<line x1="350.35" y1="357.60" x2="350.35" y2="360.60" stroke="#1e1e1e" stroke-width="1"/>
<line x1="366.80" y1="357.60" x2="366.80" y2="360.60" stroke="#1e1e1e" stroke-width="1"/>
<line x1="383.25" y1="357.60" x2="383.25" y2="360.60" stroke="#1e1e1e" stroke-width="1"/>
<line x1="399.70" y1="357.60" x2="399.70" y2="360.60" stroke="#1e1e1e" stroke-width="1"/>
<line x1="416.15" y1="357.60" x2="416.15" y2="360.60" stroke="#1e1e1e" stroke-width="1"/>
<text x="292.90" y="371.10" font-size="8.8" text-anchor="middle" fill="#222" stroke="#222" stroke-width="0.18">0</text>
<text x="317.45" y="371.10" font-size="8.8" text-anchor="middle" fill="#222" stroke="#222" stroke-width="0.18">1</text>
<text x="333.90" y="371.10" font-size="8.8" text-anchor="middle" fill="#222" stroke="#222" stroke-width="0.18">2</text>
<text x="350.35" y="371.10" font-size="8.8" text-anchor="middle" fill="#222" stroke="#222" stroke-width="0.18">3</text>
<text x="366.80" y="371.10" font-size="8.8" text-anchor="middle" fill="#222" stroke="#222" stroke-width="0.18">4</text>
<text x="383.25" y="371.10" font-size="8.8" text-anchor="middle" fill="#222" stroke="#222" stroke-width="0.18">5</text>
<text x="399.70" y="371.10" font-size="8.8" text-anchor="middle" fill="#222" stroke="#222" stroke-width="0.18">6</text>
<text x="416.15" y="371.10" font-size="8.8" text-anchor="middle" fill="#222" stroke="#222" stroke-width="0.18">7</text>
<text x="348.20" y="385.00" font-size="10.6" text-anchor="start" fill="#222" stroke="#222" stroke-width="0.18" textLength="21.20" lengthAdjust="spacingAndGlyphs">Years</text>
<text transform="translate(282.20,311.10) rotate(-90)" font-size="10" text-anchor="middle" fill="#222" stroke="#222" stroke-width="0.18" textLength="36.60" lengthAdjust="spacingAndGlyphs">% treated</text>
<text x="417.60" y="267.80" font-size="7.4" text-anchor="end" fill="#222" stroke="#222" stroke-width="0.18" textLength="31.50" lengthAdjust="spacingAndGlyphs"><tspan font-style="italic">P</tspan> &lt; .0001</text>
<text x="273.90" y="386.80" font-size="6.5" text-anchor="start" font-weight="bold" fill="#111" stroke="#111" stroke-width="0.25" textLength="33.20" lengthAdjust="spacingAndGlyphs">No. at risk:</text>
<line x1="275.50" y1="395.40" x2="285.30" y2="395.40" stroke="#c0c0c0" stroke-width="1.45"/>
<text x="304.90" y="397.30" font-size="6.5" text-anchor="end" fill="#222" stroke="#222" stroke-width="0.18">98</text>
<text x="320.80" y="397.30" font-size="6.5" text-anchor="end" fill="#222" stroke="#222" stroke-width="0.18">67</text>
<text x="337.70" y="397.30" font-size="6.5" text-anchor="end" fill="#222" stroke="#222" stroke-width="0.18">46</text>
<text x="354.00" y="397.30" font-size="6.5" text-anchor="end" fill="#222" stroke="#222" stroke-width="0.18">25</text>
<text x="370.80" y="397.30" font-size="6.5" text-anchor="end" fill="#222" stroke="#222" stroke-width="0.18">15</text>
<text x="386.90" y="397.30" font-size="6.5" text-anchor="end" fill="#222" stroke="#222" stroke-width="0.18">11</text>
<text x="401.50" y="397.30" font-size="6.5" text-anchor="end" fill="#222" stroke="#222" stroke-width="0.18">9</text>
<text x="418.10" y="397.30" font-size="6.5" text-anchor="end" fill="#222" stroke="#222" stroke-width="0.18">9</text>
<line x1="275.50" y1="403.80" x2="285.30" y2="403.80" stroke="#d29f6c" stroke-width="1.75"/>
<text x="304.90" y="405.70" font-size="6.5" text-anchor="end" fill="#222" stroke="#222" stroke-width="0.18">92</text>
<text x="320.80" y="405.70" font-size="6.5" text-anchor="end" fill="#222" stroke="#222" stroke-width="0.18">21</text>
<text x="337.70" y="405.70" font-size="6.5" text-anchor="end" fill="#222" stroke="#222" stroke-width="0.18">14</text>
<text x="354.00" y="405.70" font-size="6.5" text-anchor="end" fill="#222" stroke="#222" stroke-width="0.18">8</text>
<text x="370.80" y="405.70" font-size="6.5" text-anchor="end" fill="#222" stroke="#222" stroke-width="0.18">5</text>
<text x="386.90" y="405.70" font-size="6.5" text-anchor="end" fill="#222" stroke="#222" stroke-width="0.18">5</text>
<text x="401.50" y="405.70" font-size="6.5" text-anchor="end" fill="#222" stroke="#222" stroke-width="0.18">3</text>
<text x="418.10" y="405.70" font-size="6.5" text-anchor="end" fill="#222" stroke="#222" stroke-width="0.18">2</text>
<rect x="0.5" y="0.5" width="519" height="413" fill="none" stroke="#111" stroke-width="1"/>
</svg>
</body></html>
